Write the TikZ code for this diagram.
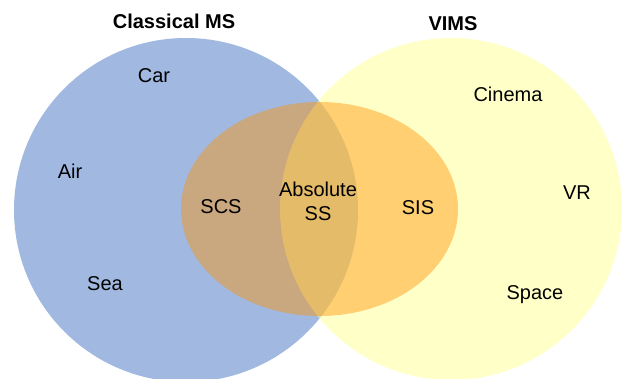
\documentclass[tikz,border=0pt]{standalone}
\usepackage{fontspec}
\setmainfont{Liberation Sans}
\usetikzlibrary{shapes.geometric}
\definecolor{msblue}{RGB}{161,185,225}
\definecolor{vimsyellow}{RGB}{255,255,149}
\definecolor{ssorange}{RGB}{255,144,0}
\begin{document}
\begin{tikzpicture}[x=1pt, y=-1pt,
        every node/.style={font=\fontsize{20}{24}\selectfont, align=center},
        setnode/.style={circle, inner sep=0pt, minimum size=#1},
        title/.style={font=\bfseries\fontsize{20}{24}\selectfont}]
        \useasboundingbox[fill=white] (0,0) rectangle (624,378);

        \node[setnode=344pt, fill=msblue] (MS) at (186,210) {};
        \node[setnode=342pt, fill=vimsyellow, fill opacity=0.51] (VIMS) at (451,209) {};
        \node[ellipse, inner sep=0pt, minimum width=277pt, minimum height=214pt,
              fill=ssorange, fill opacity=0.43] (SS) at (319.5,209) {};

        \node[title] (msT) at (174,21) {Classical MS};
        \node[title] (vimsT) at (453,24) {VIMS};

        \node (car) at (154,76) {Car};
        \node (air) at (70,171) {Air};
        \node (sea) at (105,284) {Sea};

        \node (scs) at (221,207) {SCS};
        \node (abs) at (318,201) {Absolute\\SS};
        \node (sis) at (418,208) {SIS};

        \node (cinema) at (508,94) {Cinema};
        \node (vr) at (577,193) {VR};
        \node (space) at (535,295) {Space};
    \end{tikzpicture}
\end{document}
